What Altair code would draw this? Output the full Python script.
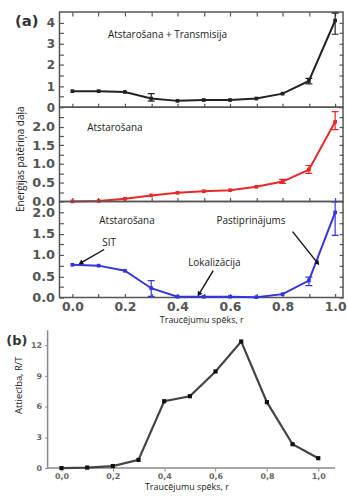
import math
import altair as alt
import pandas as pd

# ---------------- data ----------------
r_vals = [0.0, 0.1, 0.2, 0.3, 0.4, 0.5, 0.6, 0.7, 0.8, 0.9, 1.0]

total_vals = [0.76, 0.76, 0.72, 0.41, 0.30, 0.34, 0.34, 0.41, 0.64, 1.24, 4.10]
total_lo = [None, None, None, 0.29, None, None, None, None, None, 1.10, 3.45]
total_hi = [None, None, None, 0.64, None, None, None, None, None, 1.36, 4.45]

refl_vals = [0.0, 0.01, 0.07, 0.16, 0.23, 0.27, 0.30, 0.39, 0.53, 0.85, 2.13]
refl_lo = [None, None, None, None, None, None, None, None, 0.48, 0.75, 1.92]
refl_hi = [None, None, None, None, None, None, None, None, 0.59, 0.96, 2.40]

rb_vals = [0.77, 0.75, 0.63, 0.22, 0.02, 0.02, 0.02, 0.01, 0.08, 0.40, 2.00]
rb_lo = [None, None, None, 0.03, None, None, None, None, None, 0.28, 1.46]
rb_hi = [None, None, None, 0.40, None, None, None, None, None, 0.48, 2.25]

ratio_vals = [0.0, 0.05, 0.2, 0.8, 6.55, 7.04, 9.47, 12.4, 6.46, 2.34, 0.97]

x_ticks = [0.0, 0.1, 0.2, 0.3, 0.4, 0.5, 0.6, 0.7, 0.8, 0.9, 1.0]
top_yticks = [0, 0.5, 1, 1.5, 2, 2.5, 3, 3.5, 4]
mid_yticks = [0, 0.25, 0.5, 0.75, 1.0, 1.25, 1.5, 1.75, 2.0, 2.25]
bot_yticks = [0, 0.25, 0.5, 0.75, 1.0, 1.25, 1.5, 1.75, 2.0]
b_yticks = [0, 1.5, 3, 4.5, 6, 7.5, 9, 10.5, 12]
b_ytop = 13.5

top_notes = ["Atstarošana + Transmisija"]
top_note_x = [0.362]
top_note_y = [3.39]
mid_notes = ["Atstarošana"]
mid_note_x = [0.162]
mid_note_y = [1.95]
bot_notes = ["Atstarošana", "SIT", "Lokalizācija", "Pastiprinājums"]
bot_note_x = [0.208, 0.14, 0.54, 0.68]
bot_note_y = [1.81, 1.27, 0.82, 1.79]

arrow_x0 = [0.121, 0.536, 0.838]
arrow_y0 = [1.13, 0.635, 1.55]
arrow_x1 = [0.034, 0.483, 0.932]
arrow_y1 = [0.82, 0.094, 0.82]

# ---------------- styling ----------------
LABEL_FONT = "DejaVu Sans"
TEXT_FONT = "Open Sans"
AX_COL = "#555555"
XDOM_A = [-0.049, 1.03]
W_A = 286


def panel_a(vals, lo, hi, color, ydom, yticks, yfmt, ylab_size, height,
            notes, nx, ny, show_x=False, top_axis=False, ytitle=False,
            arrows=False, tag=False):
    df = pd.DataFrame({"r": r_vals, "v": vals, "lo": lo, "hi": hi})
    base = alt.Chart(df)
    xs = alt.Scale(domain=XDOM_A, nice=False, zero=False)
    ys = alt.Scale(domain=ydom, nice=False, zero=False)

    xb = dict(orient="bottom", values=x_ticks, offset=-4, tickSize=4,
              tickColor=AX_COL, tickWidth=1.2, domain=False, grid=False,
              labels=show_x, title=None, labelFlush=False, labelOverlap=False)
    if show_x:
        xb.update(labelExpr="round(datum.value*10) % 2 == 0 ? format(datum.value, '.1f') : ''",
                  labelFont=LABEL_FONT, labelFontWeight="bold", labelFontSize=12.5,
                  labelColor=AX_COL, labelPadding=3,
                  title="Traucējumu spēks, r", titleFont=TEXT_FONT,
                  titleFontSize=9, titleFontWeight="normal", titleColor="#222222",
                  titlePadding=3)
    yl = dict(orient="left", values=yticks, offset=-4, tickSize=4,
              tickColor=AX_COL, tickWidth=1.2, domain=False, grid=False,
              labelExpr=yfmt, labelFont=LABEL_FONT, labelFontWeight="bold",
              labelFontSize=ylab_size, labelColor=AX_COL, labelPadding=5,
              labelFlush=False, labelOverlap=False, title=None)
    if ytitle:
        yl.update(title="Enerģijas patēriņa daļa", titleFont=TEXT_FONT,
                  titleFontSize=10, titleFontWeight="normal", titleColor="#222222",
                  titleX=-38, titleY=52, titleAngle=270, titleAlign="center",
                  titleBaseline="bottom")
    yr = dict(orient="right", values=yticks, offset=-4, tickSize=4,
              tickColor=AX_COL, tickWidth=1.2, domain=False, grid=False,
              labels=False, title=None)

    line = base.mark_line(color=color, strokeWidth=2).encode(
        x=alt.X("r:Q", scale=xs, axis=alt.Axis(**xb)),
        y=alt.Y("v:Q", scale=ys, axis=alt.Axis(**yl)),
    )
    if top_axis:
        xt = alt.Axis(orient="top", values=x_ticks, offset=-4, tickSize=4,
                      tickColor=AX_COL, tickWidth=1.2, domain=False, grid=False,
                      labels=False, title=None)
        px = alt.X("r:Q", scale=xs, axis=xt)
    else:
        px = alt.X("r:Q", scale=xs, axis=None)
    pts = base.mark_point(shape="square", filled=True, size=14, color=color,
                          opacity=1).encode(
        x=px, y=alt.Y("v:Q", scale=ys, axis=alt.Axis(**yr)))
    ebase = base.transform_filter("isValid(datum.lo)")
    err = ebase.mark_rule(color=color, strokeWidth=1.2, clip=True).encode(
        x=alt.X("r:Q", scale=xs, axis=None),
        y=alt.Y("lo:Q", scale=ys, axis=None), y2="hi:Q")
    cap_lo = ebase.mark_tick(orient="horizontal", size=7, thickness=1.2,
                             color=color, opacity=1, clip=True).encode(
        x=alt.X("r:Q", scale=xs, axis=None),
        y=alt.Y("lo:Q", scale=ys, axis=None))
    cap_hi = ebase.mark_tick(orient="horizontal", size=7, thickness=1.2,
                             color=color, opacity=1, clip=True).encode(
        x=alt.X("r:Q", scale=xs, axis=None),
        y=alt.Y("hi:Q", scale=ys, axis=None))

    ndf = pd.DataFrame({"x": nx, "y": ny, "t": notes})
    txt = alt.Chart(ndf).mark_text(font=TEXT_FONT, fontSize=10,
                                   color="#222222").encode(
        x=alt.X("x:Q", scale=xs, axis=None),
        y=alt.Y("y:Q", scale=ys, axis=None), text="t:N")

    layers = [line, err, cap_lo, cap_hi, pts, txt]

    if arrows:
        sx = W_A / (XDOM_A[1] - XDOM_A[0])
        sy = height / (ydom[1] - ydom[0])
        angles = []
        for a, b, c, d in zip(arrow_x0, arrow_y0, arrow_x1, arrow_y1):
            dx = (c - a) * sx
            dy_up = (d - b) * sy
            angles.append(math.degrees(math.atan2(dx, dy_up)) % 360)
        adf = pd.DataFrame({"x0": arrow_x0, "y0": arrow_y0,
                            "x1": arrow_x1, "y1": arrow_y1, "ang": angles})
        ar = alt.Chart(adf).mark_rule(color="#111111", strokeWidth=1.4).encode(
            x=alt.X("x0:Q", scale=xs, axis=None),
            y=alt.Y("y0:Q", scale=ys, axis=None),
            x2="x1:Q", y2="y1:Q")
        head = alt.Chart(adf).mark_point(shape="triangle", filled=True,
                                         size=30, color="#111111",
                                         opacity=1).encode(
            x=alt.X("x1:Q", scale=xs, axis=None),
            y=alt.Y("y1:Q", scale=ys, axis=None),
            angle=alt.Angle("ang:Q", scale=None))
        layers += [ar, head]

    if tag:
        tg = alt.Chart(pd.DataFrame({"t": ["(a)"]})).mark_text(
            font=LABEL_FONT, fontWeight="bold", fontSize=15, color="#333333",
            align="center", baseline="middle").encode(
            text="t:N", x=alt.value(-33), y=alt.value(9))
        layers.append(tg)

    return alt.layer(*layers).resolve_axis(x="independent", y="independent").properties(
        width=W_A, height=height,
        view=alt.ViewBackground(stroke=AX_COL, strokeWidth=1.5, strokeOpacity=1))


fmt_int = "round(datum.value*2) % 2 == 0 ? format(datum.value, 'd') : ''"
fmt_dec = "round(datum.value*4) % 2 == 0 ? format(datum.value, '.1f') : ''"

top = panel_a(total_vals, total_lo, total_hi, "#222222", [0, 4.5], top_yticks,
              fmt_int, 12, 96, top_notes, top_note_x, top_note_y,
              top_axis=True, tag=True)
mid = panel_a(refl_vals, refl_lo, refl_hi, "#e8282a", [0, 2.52], mid_yticks,
              fmt_dec, 13, 95, mid_notes, mid_note_x, mid_note_y, ytitle=True)
bot = panel_a(rb_vals, rb_lo, rb_hi, "#3434e0", [0, 2.26], bot_yticks,
              fmt_dec, 13, 97, bot_notes, bot_note_x, bot_note_y,
              show_x=True, arrows=True)

# ---------------- panel (b) ----------------
# plot area of (b) shares the left edge of (a); its y axis is moved 12 px left,
# and its height includes the 33 px gap above it (the axis line stops at 13.5).
B_H_PLOT = 139
B_GAP = 33
B_H = B_H_PLOT + B_GAP
B_W = 278
b_ydom_top = b_ytop * B_H / B_H_PLOT
bdf = pd.DataFrame({"r": r_vals, "v": ratio_vals})
bxs = alt.Scale(domain=[-0.0077, 1.0656], nice=False, zero=False)
bys = alt.Scale(domain=[0, b_ydom_top], nice=False, zero=False)
B_AX = "#8a8a8a"
bx_axis = alt.Axis(values=x_ticks, tickSize=3, tickColor=B_AX, tickWidth=1,
                   domain=False, grid=False,
                   labelExpr="round(datum.value*10) % 2 == 0 ? replace(format(datum.value, '.1f'), '.', ',') : ''",
                   labelFont=LABEL_FONT, labelFontWeight="bold", labelFontSize=8,
                   labelColor="#666666", labelPadding=2, labelFlush=False,
                   labelOverlap=False,
                   title="Traucējumu spēks, r", titleFont=TEXT_FONT,
                   titleFontSize=9, titleFontWeight="normal", titleColor="#222222",
                   titlePadding=2, titleX=128)
by_axis = alt.Axis(values=b_yticks, offset=12, tickSize=3, tickColor=B_AX,
                   tickWidth=1, domain=False, grid=False,
                   labelExpr="round(datum.value/1.5) % 2 == 0 ? format(datum.value, 'd') : ''",
                   labelFont=LABEL_FONT, labelFontWeight="bold", labelFontSize=8,
                   labelColor="#666666", labelPadding=3, labelFlush=False,
                   labelOverlap=False,
                   title="Attiecība, R/T", titleFont=TEXT_FONT, titleFontSize=9.5,
                   titleFontWeight="normal", titleColor="#222222",
                   titleX=-24, titleY=88, titleAlign="center", titleAngle=270,
                   titleBaseline="bottom")
bline = alt.Chart(bdf).mark_line(color="#444444", strokeWidth=2.2).encode(
    x=alt.X("r:Q", scale=bxs, axis=bx_axis),
    y=alt.Y("v:Q", scale=bys, axis=by_axis))
bpts = alt.Chart(bdf).mark_point(shape="square", filled=True, size=18,
                                 color="#111111", opacity=1).encode(
    x=alt.X("r:Q", scale=bxs), y=alt.Y("v:Q", scale=bys))
# axis lines of (b)
bax_y = alt.Chart(pd.DataFrame({"a": [0], "b": [b_ytop]})).mark_rule(
    color=B_AX, strokeWidth=1.5).encode(
    x=alt.value(-12), y=alt.Y("a:Q", scale=bys), y2="b:Q")
bax_x = alt.Chart(pd.DataFrame({"a": [0]})).mark_rule(
    color=B_AX, strokeWidth=1.5).encode(
    x=alt.value(-12), x2=alt.value(B_W), y=alt.Y("a:Q", scale=bys))
btag = alt.Chart(pd.DataFrame({"t": ["(b)"]})).mark_text(
    font=LABEL_FONT, fontWeight="bold", fontSize=13, color="#333333",
    align="center", baseline="middle").encode(
    text="t:N", x=alt.value(-43), y=alt.value(44))
bchart = alt.layer(bax_y, bax_x, bline, bpts, btag).properties(
    width=B_W, height=B_H, view=alt.ViewBackground(strokeOpacity=0))

chart = alt.vconcat(top, mid, bot, bchart, spacing=0, bounds="flush").properties(
    padding={"left": 6, "top": 8, "right": 0, "bottom": 0},
    background="white",
).configure_view(strokeOpacity=0)

chart.save("out.html", embed_options={"renderer": "svg", "actions": False})
